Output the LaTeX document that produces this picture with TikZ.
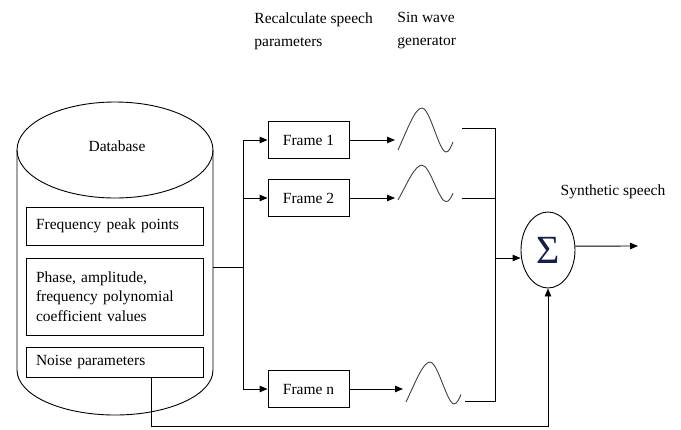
\documentclass[tikz,border=0pt]{standalone}
\usepackage{fontspec}
\setmainfont{Liberation Serif}
\usetikzlibrary{arrows.meta}
\usetikzlibrary{
        shapes.geometric,
    }
\definecolor{sigmablue}{RGB}{25,30,70}

\begin{document}
\begin{tikzpicture}[x=1pt,y=-1pt,font=\fontsize{15.5}{19.5}\selectfont,line width=0.9pt,
        arr/.style={-{Triangle[length=8pt,width=6.5pt]}},
        dbbox/.style={draw,fill=white,minimum width=177pt,text width=157pt,align=left,inner ysep=0pt,inner xsep=10pt},
        framebox/.style={draw,minimum width=81pt,minimum height=37pt},
        toplabel/.style={align=left,anchor=west,inner sep=0pt,font=\fontsize{15.5}{23}\selectfont},
        sinewave/.pic={
            \draw[black!75] (0,0) .. controls (10,-22) and (17,-42) .. (24,-42) .. controls (32,-42) and (41,2) .. (48,2) .. controls (51,2) and (53,-3) .. (55,-8);
            \coordinate (-in) at (-3,-9);
        }]
    \useasboundingbox (0,0) rectangle (681,429);
    % database cylinder
    \draw (115,150) ellipse [x radius=98,y radius=48];
    \draw (17,150) -- (17,370) arc [start angle=180,end angle=0,x radius=98,y radius=45] -- (213,150);
    \node (dbname) at (117,146) {Database};
    \node[dbbox,minimum height=38pt] (peaks) at (114.5,226) {Frequency peak points};
    \node[dbbox,minimum height=77pt] (coeffs) at (114.5,296.5) {Phase, amplitude,\\frequency polynomial\\coefficient values};
    \node[dbbox,minimum height=30pt] (noise) at (114.5,362) {Noise parameters};

    % frames
    \node[framebox] (frame1) at (308.5,140) {Frame 1};
    \node[framebox] (frame2) at (308.5,198) {Frame 2};
    \node[framebox] (framen) at (308.5,389) {Frame n};
    \coordinate (dbout) at (213,267);
    \coordinate (bus) at (243,267);
    \draw (dbout) -- (bus);
    \draw (bus |- frame1) -- (bus |- framen);
    \draw[arr] (bus |- frame1) -- (frame1);
    \draw[arr] (bus |- frame2) -- (frame2);
    \draw[arr] (bus |- framen) -- (framen);

    % generators
    \pic (wave1) at (398,150) {sinewave};
    \pic[yscale=0.83] (wave2) at (398,200) {sinewave};
    \pic[yscale=0.95] (waven) at (406,402) {sinewave};
    \draw[arr] (frame1) -- (frame1 -| wave1-in);
    \draw[arr] (frame2) -- (frame2 -| wave2-in);
    \draw[arr] (framen) -- (framen -| waven-in);

    % adder
    \node[draw,ellipse,minimum width=54pt,minimum height=76pt,inner sep=0pt,text=sigmablue] (sum) at (548,250) {\fontsize{40}{40}\selectfont Σ};
    \coordinate (out1) at (462,128);
    \coordinate (out2) at (462,198);
    \coordinate (outn) at (465,401);
    \coordinate (mix) at (495,258);
    \draw (out1) -| (mix);
    \draw (outn) -| (mix);
    \draw (out2) -- (out2 -| mix);
    \draw[arr] (mix) -- (mix -| sum.west);
    \coordinate (speech) at (638,246);
    \draw[arr] (sum.8) -- (speech);
    \draw[arr] ([xshift=37pt]noise.south) -- ++(0,49) -| (sum.south);

    % labels
    \node[toplabel] (recalc) at (254,31) {Recalculate speech\\parameters};
    \node[toplabel] (genlabel) at (397,31) {Sin wave\\generator};
    \node (synth) at (613,192) {Synthetic speech};
\end{tikzpicture}
\end{document}
